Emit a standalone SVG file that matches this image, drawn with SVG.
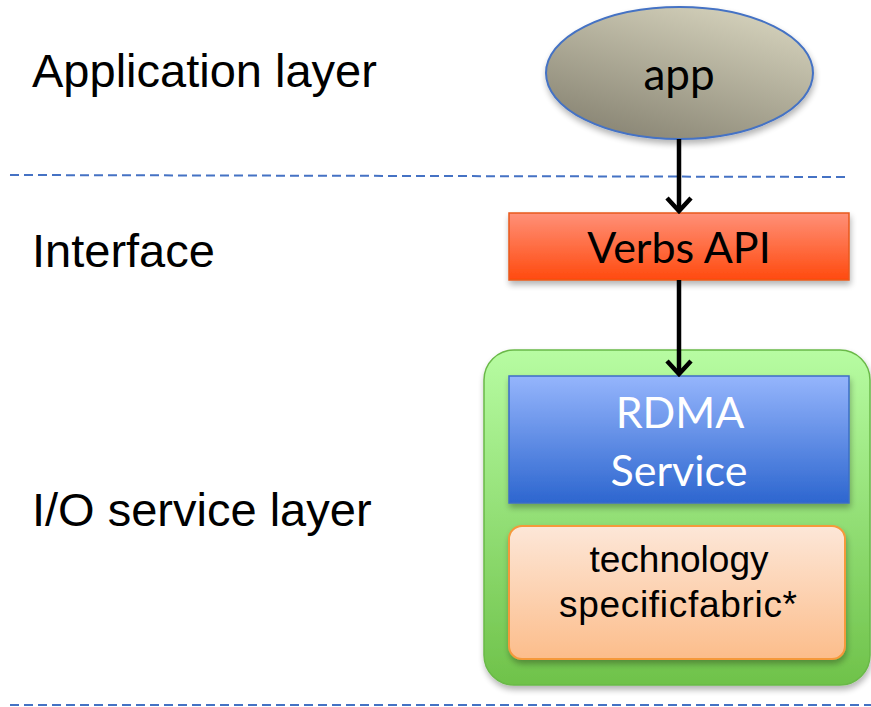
<svg xmlns="http://www.w3.org/2000/svg" width="871" height="707" viewBox="0 0 871 707">
<style>
.lbl{font-family:"Liberation Sans",Arial,sans-serif;font-size:47px;fill:#000}
.cal{font-family:Lato,"Open Sans",sans-serif;text-anchor:middle}
.ar{font-family:"Liberation Sans",Arial,sans-serif;text-anchor:middle;font-size:37px;fill:#000}
.dash{stroke:#4472c4;stroke-width:2;stroke-dasharray:9 5;fill:none}
.conn{stroke:#000;stroke-width:4.5;fill:none}
</style>
<defs>
<filter id="sh" x="-10%" y="-10%" width="130%" height="140%">
<feGaussianBlur in="SourceAlpha" stdDeviation="3"/>
<feOffset dx="1" dy="4"/>
<feComponentTransfer><feFuncA type="linear" slope="0.3"/></feComponentTransfer>
<feMerge><feMergeNode/><feMergeNode in="SourceGraphic"/></feMerge>
</filter>
<linearGradient id="gApp" x1="0.8" y1="0" x2="0.2" y2="1">
<stop offset="0" stop-color="#d6d3bd"/><stop offset="1" stop-color="#878372"/>
</linearGradient>
<linearGradient id="gVerbs" x1="0" y1="0" x2="0" y2="1">
<stop offset="0" stop-color="#ff9078"/><stop offset="1" stop-color="#ff4a0e"/>
</linearGradient>
<linearGradient id="gGreen" x1="0" y1="0" x2="0" y2="1">
<stop offset="0" stop-color="#b7fca2"/><stop offset="1" stop-color="#6fc24a"/>
</linearGradient>
<linearGradient id="gRdma" x1="0" y1="0" x2="0" y2="1">
<stop offset="0" stop-color="#95b5fc"/><stop offset="1" stop-color="#2d66cf"/>
</linearGradient>
<linearGradient id="gTech" x1="0" y1="0" x2="0" y2="1">
<stop offset="0" stop-color="#fde7d8"/><stop offset="1" stop-color="#fcbd8b"/>
</linearGradient>
<marker id="arr" viewBox="0 0 18 28" refX="15" refY="14" markerWidth="18" markerHeight="28" markerUnits="userSpaceOnUse" orient="auto">
<path d="M2,2 L15,14 L2,26" fill="none" stroke="#000" stroke-width="4.5"/>
</marker>
</defs>

<g id="layers">
<line class="dash" x1="10" y1="175" x2="846" y2="177" filter="url(#sh)"/>
<line class="dash" x1="10" y1="318" x2="846" y2="318" filter="url(#sh)"/>
<line class="dash" x1="10" y1="705" x2="871" y2="705"/>
<text class="lbl" x="32" y="87">Application layer</text>
<text class="lbl" x="32" y="267">Interface</text>
<text class="lbl" x="32" y="526">I/O service layer</text>
</g>

<g id="app">
<ellipse cx="679.5" cy="73" rx="133.5" ry="66" fill="url(#gApp)" stroke="#4472c4" stroke-width="2" filter="url(#sh)"/>
<text class="cal" x="679" y="90" font-size="44" fill="#000">app</text>
</g>

<g id="verbs">
<rect x="509" y="213" width="340" height="67" fill="url(#gVerbs)" stroke="#e8581e" stroke-width="1.5" filter="url(#sh)"/>
<text class="cal" x="679" y="263" font-size="43" fill="#000">Verbs API</text>
</g>

<g id="io">
<rect x="484" y="350" width="386" height="335" rx="30" fill="url(#gGreen)" stroke="#6ab948" stroke-width="1.5" filter="url(#sh)"/>
</g>

<g id="rdma">
<rect x="509" y="376" width="340" height="127" fill="url(#gRdma)" stroke="#3d6ec6" stroke-width="1.5" filter="url(#sh)"/>
<text class="cal" x="680" y="428" font-size="43" fill="#fff">RDMA</text>
<text class="cal" x="679" y="486" font-size="43" fill="#fff">Service</text>
</g>

<g id="tech">
<rect x="509" y="526" width="336" height="133" rx="13" fill="url(#gTech)" stroke="#f5993a" stroke-width="2" filter="url(#sh)"/>
<text class="ar" x="679" y="572">technology</text>
<text class="ar" x="678" y="617" textLength="238" lengthAdjust="spacing">specificfabric*</text>
</g>

<g id="connectors">
<line class="conn" x1="679" y1="139" x2="679" y2="211" marker-end="url(#arr)"/>
<line class="conn" x1="679" y1="280" x2="679" y2="374" marker-end="url(#arr)"/>
</g>
</svg>
